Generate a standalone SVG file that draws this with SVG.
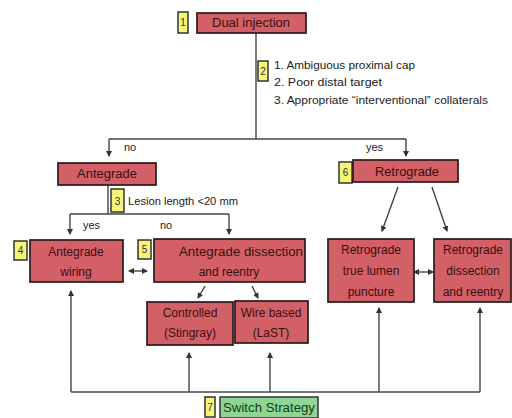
<svg xmlns="http://www.w3.org/2000/svg" width="512" height="418" viewBox="0 0 512 418">
<style>
.r{fill:#d35f67;stroke:#2a1a1a;stroke-width:1.7}
.y{fill:#f6f57a;stroke:#333;stroke-width:1.5}
.g{fill:#8fd694;stroke:#333;stroke-width:1.5}
.t{font-family:"Liberation Sans Narrow","Liberation Sans",Arial,sans-serif;font-size:12px;fill:#3a1010;text-anchor:middle}
.n{font-family:"Liberation Sans",Arial,sans-serif;font-size:10px;fill:#333;text-anchor:middle}
.s{font-family:"Liberation Sans Narrow","Liberation Sans",Arial,sans-serif;font-size:11px;fill:#222}
.l{fill:none;stroke:#444;stroke-width:1.4}
</style>
<defs>
<marker id="a" markerWidth="6" markerHeight="6" refX="5" refY="3" orient="auto" markerUnits="userSpaceOnUse">
<path d="M0,0 L6,3 L0,6 Z" fill="#333"/>
</marker>
<marker id="b" markerWidth="6" markerHeight="6" refX="1" refY="3" orient="auto" markerUnits="userSpaceOnUse">
<path d="M6,0 L0,3 L6,6 Z" fill="#333"/>
</marker>
</defs>
<g id="connectors">
<path class="l" d="M256,34 V139"/>
<path class="l" d="M109,139 H406"/>
<path class="l" d="M109,139 V156" marker-end="url(#a)"/>
<path class="l" d="M406,139 V156" marker-end="url(#a)"/>
<path class="l" d="M108,185 V214"/>
<path class="l" d="M70,214 H229"/>
<path class="l" d="M70,214 V234" marker-end="url(#a)"/>
<path class="l" d="M229,214 V234" marker-end="url(#a)"/>
<path class="l" d="M129,271 H147" marker-start="url(#b)" marker-end="url(#a)"/>
<path class="l" d="M205,286 L198,298" marker-end="url(#a)"/>
<path class="l" d="M252,286 L258,298" marker-end="url(#a)"/>
<path class="l" d="M398,187 L382,231" marker-end="url(#a)"/>
<path class="l" d="M432,187 L447,231" marker-end="url(#a)"/>
<path class="l" d="M414,272 H433" marker-start="url(#b)" marker-end="url(#a)"/>
<path class="l" d="M71,392 H480"/>
<path class="l" d="M71,392 V291" marker-end="url(#a)"/>
<path class="l" d="M189,392 V353" marker-end="url(#a)"/>
<path class="l" d="M270,392 V353" marker-end="url(#a)"/>
<path class="l" d="M379,392 V308" marker-end="url(#a)"/>
<path class="l" d="M480,392 V308" marker-end="url(#a)"/>
</g>
<g id="n1">
<rect class="y" x="178" y="12" width="10" height="21"/>
<text class="n" x="183" y="26">1</text>
<rect class="r" x="197" y="13" width="109" height="20"/>
<text class="t" x="251" y="27" textLength="78" lengthAdjust="spacingAndGlyphs">Dual injection</text>
</g>
<g id="n2">
<rect class="y" x="258" y="61" width="10" height="20"/>
<text class="n" x="263" y="75">2</text>
<text class="s" x="274" y="69" textLength="141" lengthAdjust="spacingAndGlyphs">1.  Ambiguous proximal cap</text>
<text class="s" x="274" y="86" textLength="108" lengthAdjust="spacingAndGlyphs">2.  Poor distal target</text>
<text class="s" x="274" y="104" textLength="214" lengthAdjust="spacingAndGlyphs">3.  Appropriate “interventional” collaterals</text>
</g>
<text class="s" x="124" y="151">no</text>
<text class="s" x="366" y="151">yes</text>
<g id="antegrade">
<rect class="r" x="58" y="163" width="98" height="22"/>
<text class="t" x="107" y="178" textLength="60" lengthAdjust="spacingAndGlyphs">Antegrade</text>
</g>
<g id="n3">
<rect class="y" x="111" y="189" width="13" height="23"/>
<text class="n" x="117.5" y="205">3</text>
<text class="s" x="128" y="205" textLength="110" lengthAdjust="spacingAndGlyphs">Lesion length &lt;20 mm</text>
</g>
<text class="s" x="83" y="229">yes</text>
<text class="s" x="160" y="229">no</text>
<g id="n4">
<rect class="y" x="14" y="241" width="13" height="19"/>
<text class="n" x="20.5" y="254">4</text>
<rect class="r" x="30" y="240" width="93" height="42"/>
<text class="t" x="76" y="256">Antegrade</text>
<text class="t" x="76" y="276">wiring</text>
</g>
<g id="n5">
<rect class="y" x="138" y="240" width="13" height="19"/>
<text class="n" x="144.5" y="253">5</text>
<rect class="r" x="154" y="239" width="151" height="43"/>
<text class="t" x="241" y="256" textLength="124" lengthAdjust="spacingAndGlyphs">Antegrade dissection</text>
<text class="t" x="229" y="276">and reentry</text>
</g>
<g id="controlled">
<rect class="r" x="147" y="302" width="86" height="43"/>
<text class="t" x="190" y="317">Controlled</text>
<text class="t" x="190" y="337">(Stingray)</text>
</g>
<g id="wire">
<rect class="r" x="235" y="301" width="73" height="42"/>
<text class="t" x="271" y="317">Wire based</text>
<text class="t" x="271" y="337">(LaST)</text>
</g>
<g id="n6">
<rect class="y" x="339" y="162" width="13" height="21"/>
<text class="n" x="345.5" y="176">6</text>
<rect class="r" x="353" y="160" width="105" height="22"/>
<text class="t" x="407" y="176" textLength="64" lengthAdjust="spacingAndGlyphs">Retrograde</text>
</g>
<g id="rtlp">
<rect class="r" x="328" y="239" width="86" height="63"/>
<text class="t" x="371" y="254">Retrograde</text>
<text class="t" x="371" y="275">true lumen</text>
<text class="t" x="371" y="296">puncture</text>
</g>
<g id="rdr">
<rect class="r" x="434" y="239" width="77" height="63"/>
<text class="t" x="473" y="254">Retrograde</text>
<text class="t" x="473" y="275">dissection</text>
<text class="t" x="473" y="296">and reentry</text>
</g>
<g id="n7">
<rect class="y" x="205" y="397" width="10" height="20"/>
<text class="n" x="210" y="411">7</text>
<rect class="g" x="220" y="397" width="98" height="21"/>
<text class="t" x="269" y="412" style="fill:#143a14" textLength="92" lengthAdjust="spacingAndGlyphs">Switch Strategy</text>
</g>
</svg>
